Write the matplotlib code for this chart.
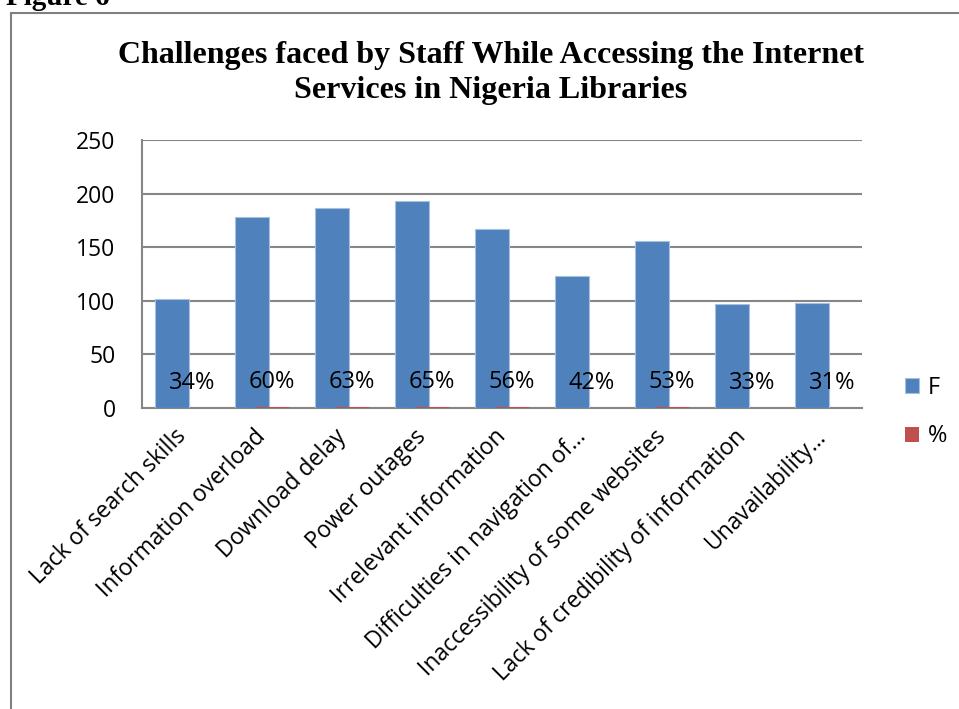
import matplotlib.pyplot as plt
import matplotlib.patches as mpatches
import matplotlib.transforms as mtransforms
import numpy as np

# datos
categorias = [
    "Lack of search skills",
    "Information overload",
    "Download delay",
    "Power outages",
    "Irrelevant information",
    "Difficulties in navigation of\u2026",
    "Inaccessibility of some websites",
    "Lack of credibility of information",
    "Unavailability\u2026",
]
frecuencia = [102, 178, 187, 193, 167, 123, 156, 97, 98]
porcentaje = [34, 60, 63, 65, 56, 42, 53, 33, 31]
y_ticks = [0, 50, 100, 150, 200, 250]

azul = '#4F81BD'
rojo = '#C0504D'
gris = '#868686'

W, H = 959, 709
plt.rcParams['font.family'] = ['Open Sans', 'DejaVu Sans']
fig = plt.figure(figsize=(W / 100, H / 100), dpi=100)

# borde del area del grafico (cortado a la derecha y abajo)
borde = mpatches.Rectangle((11 / W, -0.1), 1.2, 1 - 13 / H + 0.1, transform=fig.transFigure,
                           fill=False, edgecolor='#7F7F7F', linewidth=1.5)
fig.patches.append(borde)

fig.text(6 / W, 1 - 5 / H, "Figure 6", family='Liberation Serif', fontweight='bold',
         fontsize=21, ha='left', va='baseline')

fig.text(491 / W, 1 - 63 / H, "Challenges faced by Staff While Accessing the Internet",
         family='Liberation Serif', fontweight='bold', fontsize=23, ha='center', va='baseline')
fig.text(491 / W, 1 - 98 / H, "Services in Nigeria Libraries",
         family='Liberation Serif', fontweight='bold', fontsize=23, ha='center', va='baseline')

ax = fig.add_axes([142 / W, 1 - 408 / H, (862 - 142) / W, (408 - 140) / H])
x = np.arange(len(categorias))
ancho = 0.42
ax.bar(x - 0.125, frecuencia, width=ancho, color=azul, edgecolor='#A7C0DE', linewidth=0.8,
       label='F', zorder=3)
ax.bar(x + 0.125, [p / 100 for p in porcentaje], width=ancho, color=rojo,
       label='%', zorder=3)

for xi, p in zip(x, porcentaje):
    ax.annotate(f"{p}%", (xi + 0.125, p / 100), xytext=(0, 25), textcoords='offset pixels',
                ha='center', va='center', fontsize=17, zorder=4)

ax.set_xlim(-0.5, len(categorias) - 0.5)
ax.set_ylim(0, 250)
ax.set_yticks(y_ticks)
ax.set_xticks(x)
ax.set_xticklabels(categorias, rotation=45, ha='right', rotation_mode='anchor', fontsize=16.5)
ax.tick_params(axis='x', length=0, pad=12)
ax.tick_params(axis='y', length=0, pad=19, labelsize=16.5)
# desplazar un poco las etiquetas a la izquierda
desplazamiento = mtransforms.ScaledTranslation(-8 / 100, 0, fig.dpi_scale_trans)
for etiqueta in ax.get_xticklabels():
    etiqueta.set_transform(etiqueta.get_transform() + desplazamiento)
ax.grid(axis='y', color=gris, linewidth=1.5, zorder=0)
for lado in ['top', 'right']:
    ax.spines[lado].set_visible(False)
ax.spines['left'].set_color(gris)
ax.spines['bottom'].set_color(gris)
ax.spines['left'].set_linewidth(1.5)
ax.spines['bottom'].set_linewidth(1.5)

ax.legend(loc='center left', bbox_to_anchor=(884 / W, 1 - 412 / H), bbox_transform=fig.transFigure,
          frameon=False, fontsize=17, handlelength=0.6, handleheight=0.6, handletextpad=0.35,
          labelspacing=1.05)

fig.savefig('out.png', dpi=100)
